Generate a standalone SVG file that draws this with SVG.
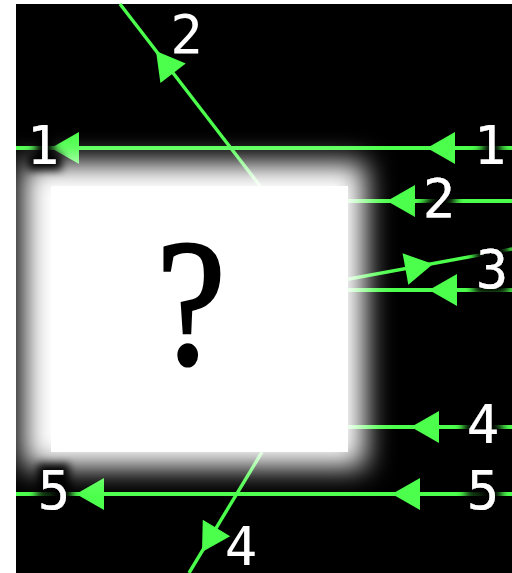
<svg xmlns="http://www.w3.org/2000/svg" width="512" height="573" viewBox="0 0 512 573">
<defs>
<style>
.edge{stroke:#4cff4c;fill:none}
.h{stroke-width:4}
.d{stroke-width:3.4}
.ah{fill:#4cff4c}
.lbl{font-family:"DejaVu Sans Mono","Liberation Mono",monospace;font-size:54px;fill:#fff;text-anchor:middle}
.halo{filter:url(#halo)}
</style>
<filter id="halo" x="-70%" y="-50%" width="240%" height="200%">
<feMorphology in="SourceAlpha" operator="dilate" radius="6" result="d"/>
<feGaussianBlur in="d" stdDeviation="4" result="b"/>
<feFlood flood-color="#000" result="k"/>
<feComposite in="k" in2="b" operator="in" result="hl"/>
<feMerge><feMergeNode in="hl"/><feMergeNode in="SourceGraphic"/></feMerge>
</filter>
<filter id="glow" x="-30%" y="-30%" width="160%" height="160%">
<feGaussianBlur stdDeviation="14"/>
</filter>
<polygon id="arrow" points="0,0 28,-16 28,16"/>
</defs>
<rect x="0" y="0" width="512" height="573" fill="#fff"/>
<rect x="16" y="4" width="496" height="569" fill="#000"/>
<g id="connectors">
<line class="edge h" x1="16" y1="148" x2="512" y2="148"/>
<line class="edge d" x1="120" y1="4" x2="260" y2="186"/>
<line class="edge h" x1="300" y1="201" x2="512" y2="201"/>
<line class="edge d" x1="300" y1="288" x2="512" y2="249"/>
<line class="edge h" x1="300" y1="290" x2="512" y2="290"/>
<line class="edge h" x1="300" y1="427" x2="512" y2="427"/>
<line class="edge d" x1="189" y1="573" x2="262" y2="452"/>
<line class="edge h" x1="16" y1="494" x2="512" y2="494"/>
<use href="#arrow" class="ah" transform="translate(51,148)"/>
<use href="#arrow" class="ah" transform="translate(427,148)"/>
<use href="#arrow" class="ah" transform="translate(156,51) rotate(52.4)"/>
<use href="#arrow" class="ah" transform="translate(387,201)"/>
<use href="#arrow" class="ah" transform="translate(433,264) rotate(169.6)"/>
<use href="#arrow" class="ah" transform="translate(429,290)"/>
<use href="#arrow" class="ah" transform="translate(411,427)"/>
<use href="#arrow" class="ah" transform="translate(202,552) rotate(-58.9)"/>
<use href="#arrow" class="ah" transform="translate(392,494)"/>
<use href="#arrow" class="ah" transform="translate(76,494)"/>
</g>
<g id="node-unknown">
<rect x="23" y="163" width="342" height="304" fill="#fff" filter="url(#glow)"/>
<rect x="51" y="186" width="297" height="266" fill="#fff"/>
<text transform="translate(191,363) scale(0.86,1)" font-family="'Liberation Serif', serif" font-size="180" text-anchor="middle" fill="#000" stroke="#000" stroke-width="3">?</text>
</g>
<g id="edge-labels">
<text class="lbl halo" x="43" y="164">1</text>
<text class="lbl halo" x="490" y="164">1</text>
<text class="lbl" x="186.5" y="53">2</text>
<text class="lbl halo" x="439" y="217">2</text>
<text class="lbl halo" x="492" y="288">3</text>
<text class="lbl halo" x="483" y="443">4</text>
<text class="lbl" x="241" y="565">4</text>
<text class="lbl halo" x="54" y="509">5</text>
<text class="lbl halo" x="483" y="509">5</text>
</g>
</svg>
